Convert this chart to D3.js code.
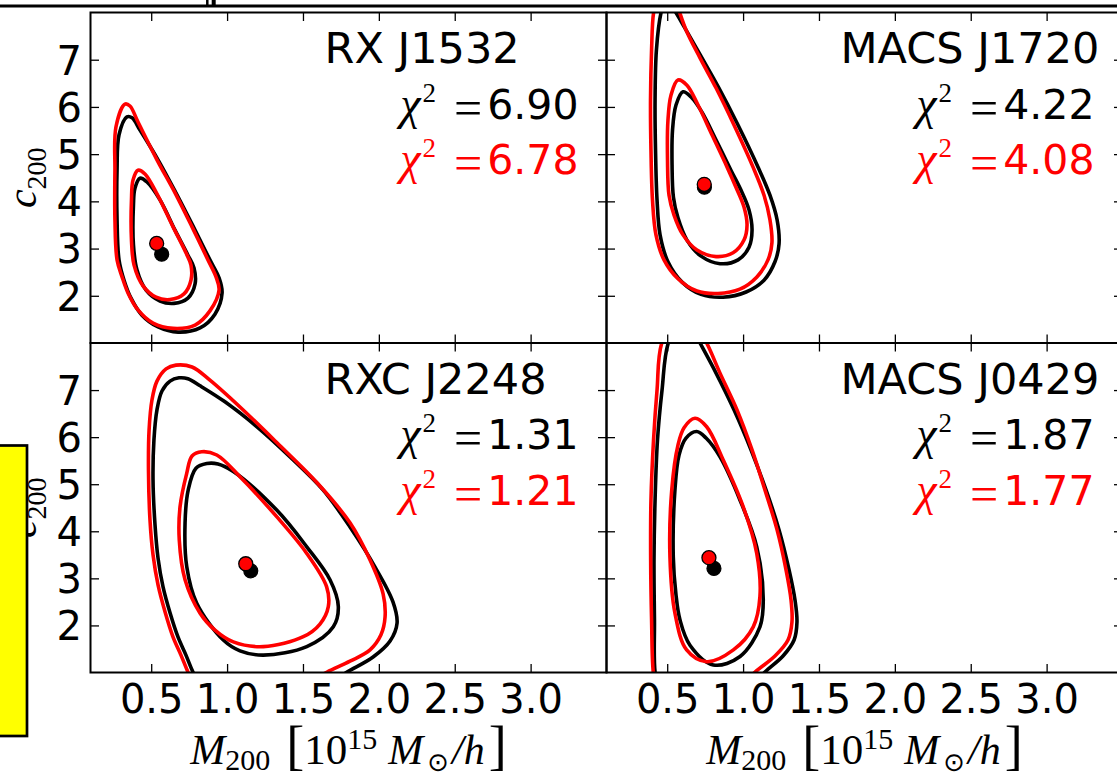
<!DOCTYPE html>
<html>
<head>
<meta charset="utf-8">
<script src="https://cdn.jsdelivr.net/npm/d3@7"></script>
<style>
  html, body { margin: 0; padding: 0; background: #fff; }
  svg { display: block; }
</style>
</head>
<body>
<svg id="fig" width="1117" height="779"></svg>
<script>
// ---- data -------------------------------------------------------------
const clusterNames = ["RX J1532", "MACS J1720", "RXC J2248", "MACS J0429"];
const chi2Black = [6.90, 4.22, 1.31, 1.87];
const chi2Red   = [6.78, 4.08, 1.21, 1.77];

// best-fit (M200, c200)
const bestFitBlack = [[0.569, 2.88], [0.745, 4.30], [1.156, 3.16], [0.808, 3.21]];
const bestFitRed   = [[0.536, 3.11], [0.744, 4.36], [1.123, 3.31], [0.775, 3.44]];

const xTickValues = [0.5, 1.0, 1.5, 2.0, 2.5, 3.0];
const yTickValues = [2, 3, 4, 5, 6, 7];
const xDomain = [0.1, 3.5];
const yDomain = [1, 8];

// confidence contours, one list of (M200, c200) vertices per cluster
const blackInner = [
  [[0.426,4.49],[0.393,4.28],[0.383,3.92],[0.383,3.08],[0.406,2.55],[0.466,2.12],[0.558,1.89],[0.650,1.84],
   [0.742,1.95],[0.789,2.25],[0.782,2.59],[0.742,2.86],[0.657,3.39],[0.558,4.03],[0.472,4.41]],
  [[0.604,6.32],[0.558,6.04],[0.535,5.51],[0.532,4.77],[0.541,4.09],[0.571,3.65],[0.630,3.18],[0.723,2.84],
   [0.848,2.68],[0.967,2.76],[1.039,3.03],[1.059,3.39],[1.039,3.82],[0.986,4.24],[0.920,4.66],[0.822,5.30],
   [0.729,5.89],[0.657,6.21]],
  [[0.866,5.44],[0.795,5.34],[0.744,4.88],[0.723,4.17],[0.734,3.25],[0.800,2.47],[0.975,1.69],[1.085,1.46],
   [1.239,1.37],[1.525,1.55],[1.700,1.97],[1.733,2.40],[1.678,2.97],[1.525,3.67],[1.327,4.45],[1.041,5.27],
   [0.940,5.43]],
  [[0.694,6.12],[0.624,5.98],[0.578,5.62],[0.551,4.88],[0.540,3.46],[0.558,2.65],[0.584,2.12],[0.650,1.58],
   [0.804,1.16],[0.980,1.34],[1.111,1.97],[1.133,2.54],[1.090,3.67],[0.980,4.66],[0.848,5.58],[0.756,5.98]]
];
const blackOuter = [
  [[0.340,5.79],[0.288,5.41],[0.275,4.66],[0.275,3.61],[0.288,2.76],[0.321,2.33],[0.367,1.95],[0.439,1.59],
   [0.545,1.34],[0.677,1.23],[0.822,1.32],[0.920,1.61],[0.967,2.06],[0.947,2.38],[0.887,2.76],[0.775,3.48],
   [0.663,4.18],[0.545,4.88],[0.426,5.51],[0.374,5.77]],
  [[0.492,8.31],[0.459,7.99],[0.429,7.21],[0.420,6.15],[0.423,5.09],[0.433,4.03],[0.453,3.29],[0.505,2.72],
   [0.598,2.29],[0.723,2.03],[0.868,1.97],[1.020,2.08],[1.138,2.33],[1.210,2.72],[1.237,3.10],[1.224,3.61],
   [1.177,4.13],[1.098,4.73],[0.960,5.66],[0.841,6.40],[0.729,7.04],[0.617,7.67],[0.538,8.10]],
  [[0.683,7.26],[0.624,7.19],[0.571,6.98],[0.538,6.58],[0.518,5.94],[0.512,5.09],[0.525,4.14],[0.545,3.43],
   [0.578,2.82],[0.624,2.27],[0.677,1.75],[0.729,1.37],[0.775,1.01],[0.848,0.56],[1.250,0.12],[1.612,0.67],
   [1.790,1.01],[1.962,1.33],[2.074,1.67],[2.120,2.05],[2.093,2.50],[1.975,3.24],[1.810,4.09],[1.632,4.88],
   [1.415,5.58],[1.197,6.22],[0.986,6.75],[0.822,7.09],[0.742,7.24]],
  [[0.611,8.63],[0.507,8.00],[0.466,7.00],[0.436,5.94],[0.420,4.66],[0.413,3.39],[0.416,2.12],[0.420,1.01],
   [0.453,0.52],[0.782,0.12],[1.046,0.67],[1.144,1.01],[1.263,1.35],[1.336,1.69],[1.355,2.07],[1.342,2.54],
   [1.303,3.18],[1.237,4.03],[1.151,4.88],[1.052,5.73],[0.940,6.58],[0.822,7.36],[0.716,8.00],[0.670,8.27]]
];
const redInner = [
  [[0.413,4.66],[0.380,4.45],[0.370,4.03],[0.370,3.18],[0.387,2.65],[0.446,2.21],[0.532,1.97],[0.624,1.92],
   [0.716,2.04],[0.762,2.33],[0.762,2.65],[0.729,2.91],[0.644,3.46],[0.538,4.16],[0.459,4.58]],
  [[0.571,6.57],[0.525,6.25],[0.505,5.72],[0.502,4.88],[0.512,4.13],[0.545,3.71],[0.604,3.29],[0.696,2.97],
   [0.822,2.83],[0.934,2.91],[1.006,3.18],[1.026,3.50],[1.006,3.88],[0.953,4.30],[0.894,4.73],[0.795,5.41],
   [0.703,6.04],[0.630,6.46]],
  [[0.833,5.69],[0.769,5.60],[0.734,5.23],[0.690,4.52],[0.685,3.81],[0.723,2.97],[0.822,2.26],[0.920,1.90],
   [1.041,1.65],[1.239,1.55],[1.502,1.76],[1.612,2.03],[1.667,2.40],[1.656,2.82],[1.525,3.53],[1.327,4.31],
   [1.085,5.16],[0.932,5.62]],
  [[0.683,6.40],[0.611,6.20],[0.571,5.83],[0.530,4.88],[0.518,3.46],[0.551,2.26],[0.628,1.48],[0.760,1.23],
   [0.936,1.48],[1.067,1.97],[1.111,2.61],[1.090,3.53],[1.001,4.52],[0.870,5.51],[0.760,6.22]]
];
const redOuter = [
  [[0.327,6.06],[0.268,5.58],[0.261,4.66],[0.261,3.61],[0.275,2.76],[0.308,2.40],[0.347,2.06],[0.413,1.70],
   [0.512,1.42],[0.644,1.31],[0.789,1.38],[0.887,1.68],[0.947,2.12],[0.927,2.40],[0.874,2.76],[0.769,3.46],
   [0.657,4.18],[0.538,4.88],[0.413,5.68],[0.360,6.02]],
  [[0.492,8.65],[0.433,8.27],[0.410,7.99],[0.397,7.21],[0.390,6.15],[0.393,5.09],[0.403,4.03],[0.426,3.29],
   [0.479,2.76],[0.571,2.36],[0.696,2.10],[0.835,2.05],[0.979,2.14],[1.091,2.40],[1.164,2.76],[1.190,3.12],
   [1.177,3.61],[1.138,4.13],[1.065,4.73],[0.934,5.66],[0.822,6.40],[0.716,7.04],[0.624,7.63],[0.571,8.10],
   [0.532,8.44]],
  [[0.663,7.53],[0.598,7.45],[0.538,7.19],[0.505,6.79],[0.486,6.15],[0.482,5.30],[0.492,4.24],[0.512,3.50],
   [0.545,2.86],[0.591,2.29],[0.644,1.75],[0.696,1.37],[0.742,1.01],[0.808,0.56],[1.151,0.16],[1.481,0.71],
   [1.659,1.01],[1.810,1.24],[1.942,1.48],[2.014,1.80],[2.041,2.18],[2.028,2.67],[1.942,3.39],[1.810,4.18],
   [1.593,5.03],[1.329,5.88],[1.085,6.64],[0.887,7.21],[0.769,7.49]],
  [[0.611,8.90],[0.464,8.00],[0.433,7.00],[0.410,5.94],[0.393,4.66],[0.391,3.39],[0.397,2.12],[0.408,1.01],
   [0.433,0.52],[0.716,0.16],[0.967,0.67],[1.079,1.01],[1.210,1.35],[1.296,1.69],[1.322,2.07],[1.316,2.54],
   [1.283,3.18],[1.224,4.03],[1.144,4.88],[1.059,5.73],[0.960,6.58],[0.848,7.36],[0.760,8.00],[0.696,8.34]]
];

// ---- layout -----------------------------------------------------------
const svg = d3.select("#fig");
const W = 1117, H = 779;
const panelW = 516;
const colLeft = [90.5, 606.5];
const rowTop = [12.5, 343];
const rowBottom = [343, 672.5];

const SANS = "'DejaVu Sans', 'Bitstream Vera Sans', sans-serif";
const SERIF = "'Liberation Serif', 'DejaVu Serif', serif";
const RED = "#ff0000";

// edge of the frame sitting above this figure
const head = svg.append("g");
head.append("line").attr("x1", 0).attr("x2", W).attr("y1", 6).attr("y2", 6)
  .attr("stroke", "#000").attr("stroke-width", 3);
head.append("line").attr("x1", 207.3).attr("x2", 207.3).attr("y1", 0).attr("y2", 6)
  .attr("stroke", "#000").attr("stroke-width", 2.5);
head.append("line").attr("x1", 213.7).attr("x2", 213.7).attr("y1", 0).attr("y2", 6)
  .attr("stroke", "#000").attr("stroke-width", 4);

const defs = svg.append("defs");

function drawPanel(i, col, row) {
  const left = colLeft[col], top = rowTop[row], bottom = rowBottom[row];
  const x = d3.scaleLinear().domain(xDomain).range([left, left + panelW]);
  const y = d3.scaleLinear().domain(yDomain).range([bottom, top]);
  const g = svg.append("g");

  defs.append("clipPath").attr("id", "clip" + i)
    .append("rect").attr("x", left).attr("y", top)
    .attr("width", panelW).attr("height", bottom - top);

  const line = d3.line()
    .x(d => x(d[0])).y(d => y(d[1]))
    .curve(d3.curveCatmullRomClosed.alpha(0.5));

  const plot = g.append("g").attr("clip-path", `url(#clip${i})`);
  [[blackOuter[i], "#000"], [blackInner[i], "#000"], [redOuter[i], RED], [redInner[i], RED]]
    .forEach(([pts, color]) => {
      plot.append("path").attr("d", line(pts))
        .attr("fill", "none").attr("stroke", color)
        .attr("stroke-width", 3.6).attr("stroke-linejoin", "round");
    });

  plot.append("circle").attr("cx", x(bestFitBlack[i][0])).attr("cy", y(bestFitBlack[i][1]))
    .attr("r", 7).attr("fill", "#000").attr("stroke", "#000").attr("stroke-width", 1.2);
  plot.append("circle").attr("cx", x(bestFitRed[i][0])).attr("cy", y(bestFitRed[i][1]))
    .attr("r", 7).attr("fill", RED).attr("stroke", "#000").attr("stroke-width", 1.3);

  // axes: inward ticks on all four sides
  const tickLen = 8.5;
  const axB = g.append("g").attr("transform", `translate(0,${bottom})`)
    .call(d3.axisBottom(x).tickValues(xTickValues).tickSizeInner(-tickLen).tickSizeOuter(0)
      .tickPadding(12).tickFormat(row === 1 ? d3.format(".1f") : () => ""));
  const axT = g.append("g").attr("transform", `translate(0,${top})`)
    .call(d3.axisTop(x).tickValues(xTickValues).tickSizeInner(-tickLen).tickSizeOuter(0).tickFormat(() => ""));
  const axL = g.append("g").attr("transform", `translate(${left},0)`)
    .call(d3.axisLeft(y).tickValues(yTickValues).tickSizeInner(-tickLen).tickSizeOuter(0)
      .tickPadding(8.5).tickFormat(col === 0 ? d3.format("d") : () => ""));
  const axR = g.append("g").attr("transform", `translate(${left + panelW},0)`)
    .call(d3.axisRight(y).tickValues(yTickValues).tickSizeInner(-tickLen).tickSizeOuter(0).tickFormat(() => ""));
  [axB, axT, axL, axR].forEach(a => {
    a.select(".domain").remove();
    a.selectAll(".tick line").attr("stroke", "#000").attr("stroke-width", 1.3);
    a.selectAll(".tick text").attr("font-family", SANS).attr("font-size", 40).attr("fill", "#000");
  });
  axL.selectAll(".tick text").attr("dy", "0.36em");

  // frame
  g.append("rect").attr("x", left).attr("y", top).attr("width", panelW).attr("height", bottom - top)
    .attr("fill", "none").attr("stroke", "#000").attr("stroke-width", 2);

  // cluster name
  g.append("text").attr("x", left + 234).attr("y", top + 50.5)
    .attr("font-family", SANS).attr("font-size", 43).attr("fill", "#000")
    .text(clusterNames[i]);

  // chi-square lines
  [[chi2Black[i], "#000", 106], [chi2Red[i], RED, 161.5]].forEach(([v, color, dyTop]) => {
    const t = g.append("text").attr("x", left + 488).attr("y", top + dyTop)
      .attr("text-anchor", "end").attr("fill", color);
    t.append("tspan").attr("font-family", SERIF).attr("font-style", "italic").attr("font-size", 46).text("χ");
    t.append("tspan").attr("font-family", SERIF).attr("font-size", 27).attr("dy", -17).attr("dx", 2).text("2");
    t.append("tspan").attr("font-family", SERIF).attr("font-size", 50)
      .attr("dy", 23).attr("dx", 18).text("=");
    t.append("tspan").attr("font-family", SANS).attr("font-size", 41).attr("dy", -6).attr("dx", 5).text(v.toFixed(2));
  });

  // axis labels
  if (col === 0) {
    const cy = (top + bottom) / 2;
    const lab = g.append("text").attr("transform", `translate(36,${cy}) rotate(-90)`)
      .attr("text-anchor", "middle").attr("fill", "#000").attr("font-family", SERIF);
    lab.append("tspan").attr("font-style", "italic").attr("font-size", 42).text("c");
    lab.append("tspan").attr("font-size", 28).attr("dy", 10).text("200");
  }
  if (row === 1) {
    const cx = left + panelW / 2;
    const lab = g.append("text").attr("x", cx).attr("y", 764)
      .attr("text-anchor", "middle").attr("fill", "#000").attr("font-family", SERIF);
    lab.append("tspan").attr("font-style", "italic").attr("font-size", 42).text("M");
    lab.append("tspan").attr("font-size", 30).attr("dy", 6).text("200");
    lab.append("tspan").attr("font-size", 54).attr("dy", -6).attr("dx", 16).text("[");
    lab.append("tspan").attr("font-size", 43).text("10");
    lab.append("tspan").attr("font-size", 30).attr("dy", -15).text("15");
    lab.append("tspan").attr("font-style", "italic").attr("font-size", 42).attr("dy", 15).attr("dx", 11).text("M");
    lab.append("tspan").attr("font-family", "'DejaVu Sans', sans-serif").attr("font-size", 26).attr("dy", 7).attr("dx", 4).text("⊙");
    lab.append("tspan").attr("font-style", "italic").attr("font-size", 42).attr("dy", -7).attr("dx", 3).text("/h");
    lab.append("tspan").attr("font-size", 54).attr("dx", 4).text("]");
  }
}

drawPanel(0, 0, 0);
drawPanel(1, 1, 0);
drawPanel(2, 0, 1);
drawPanel(3, 1, 1);

// yellow note box at the left edge
svg.append("rect").attr("x", -10).attr("y", 445.5).attr("width", 37).attr("height", 290.5)
  .attr("fill", "#ffff00").attr("stroke", "#000").attr("stroke-width", 2.7);
</script>
</body>
</html>
